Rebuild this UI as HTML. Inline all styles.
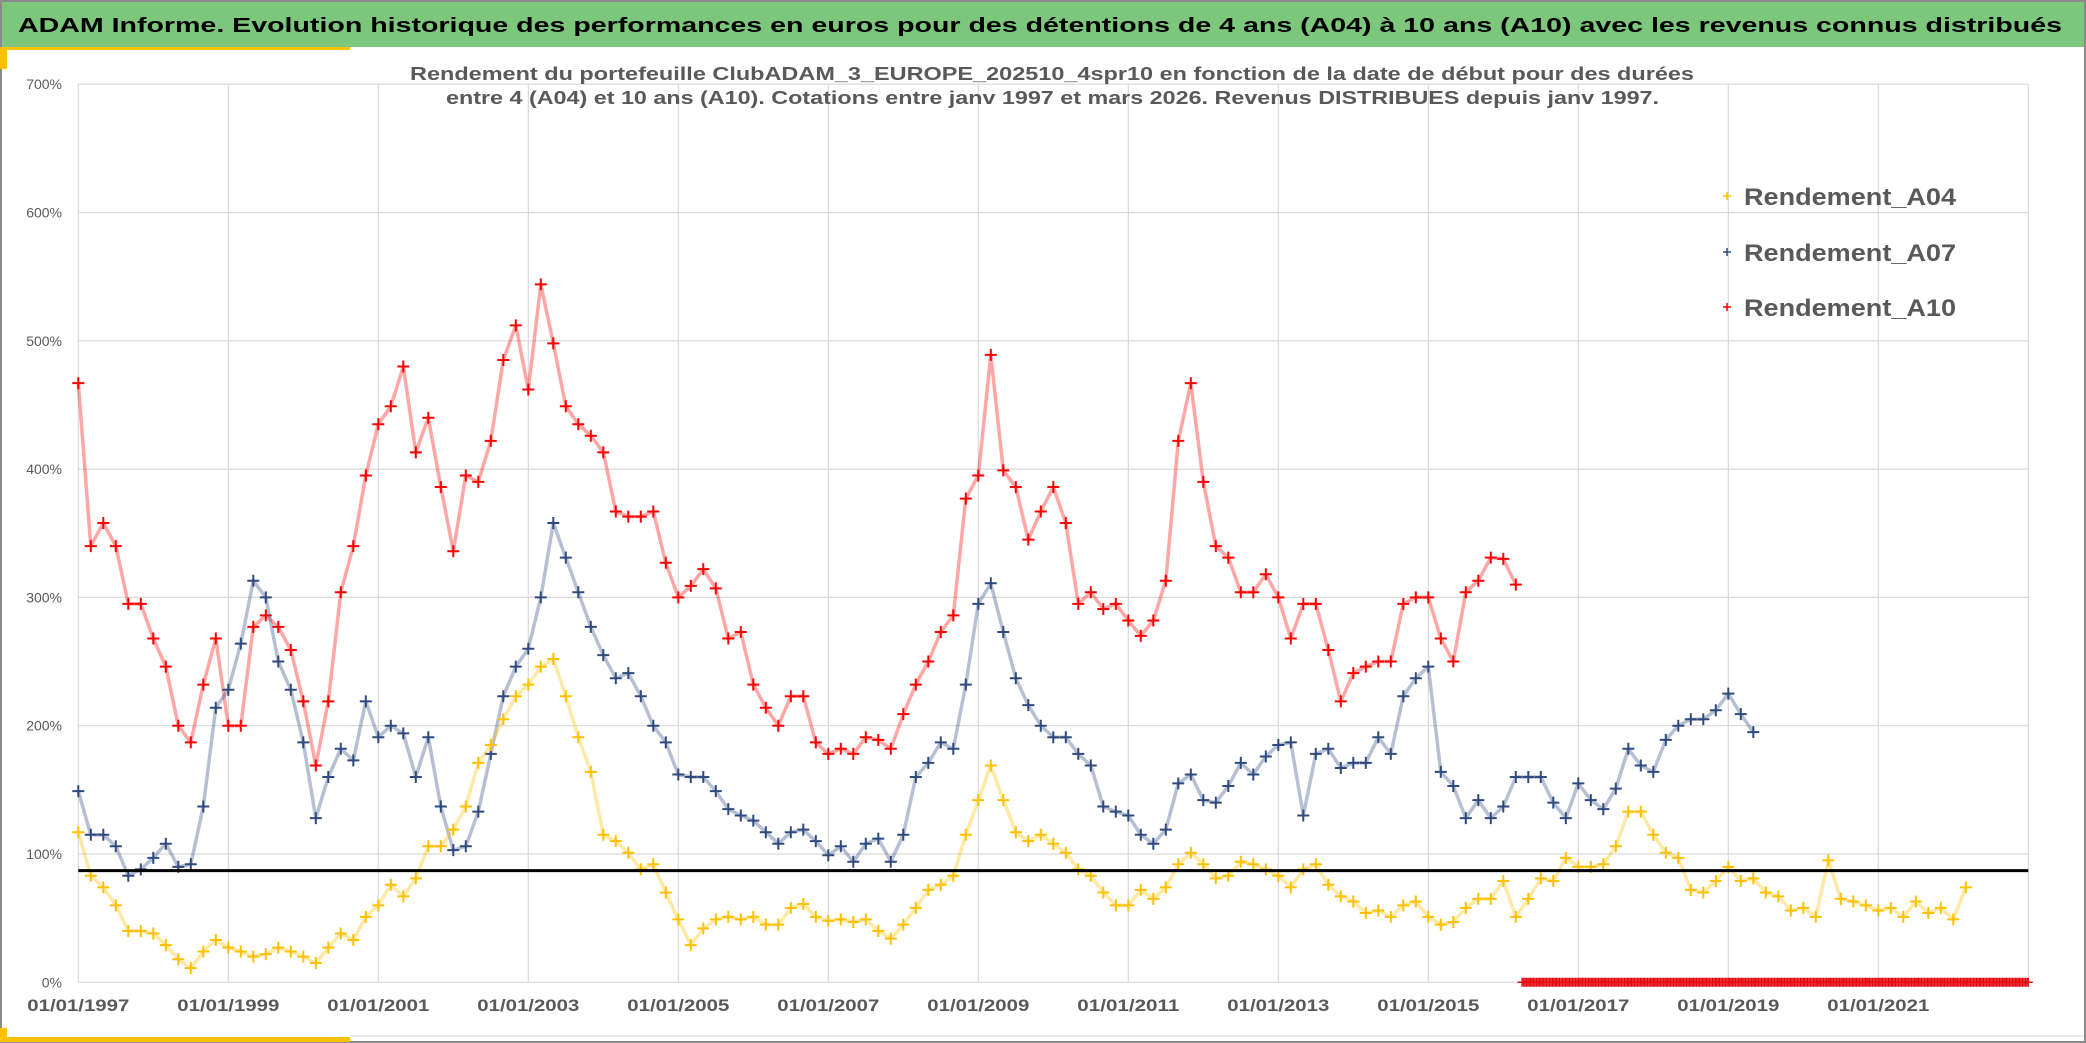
<!DOCTYPE html>
<html><head><meta charset="utf-8">
<style>
html,body{margin:0;padding:0;background:#fff;}
svg{display:block;font-family:"Liberation Sans",sans-serif;}
</style></head>
<body>
<svg id="chart" width="2086" height="1043" viewBox="0 0 2086 1043" xmlns="http://www.w3.org/2000/svg">
  <rect x="0" y="0" width="2086" height="1043" fill="#fff"/>
  <rect x="0" y="0" width="2086" height="47" fill="#7CC77C"/>
  <rect x="1" y="1" width="2084" height="1041" fill="none" stroke="#8a8a8a" stroke-width="2"/>
  <rect x="0" y="47" width="350" height="3" fill="#FFC000"/>
  <rect x="0" y="47" width="7" height="22" fill="#FFC000"/>
  <rect x="0" y="1037" width="350" height="5" fill="#FFC000"/>
  <rect x="0" y="1028" width="7" height="14" fill="#FFC000"/>
  <line x1="350" y1="1036" x2="2084" y2="1036" stroke="#d9d9d9" stroke-width="1"/>
  <text x="18" y="32" font-size="20" font-weight="bold" fill="#000" textLength="2044" lengthAdjust="spacingAndGlyphs">ADAM Informe. Evolution historique des performances en euros pour des détentions de 4 ans (A04) à 10 ans (A10) avec les revenus connus distribués</text>
  <g id="grid"></g>
  <g id="axes"></g>
  <text x="410" y="80" font-size="18" font-weight="bold" fill="#595959" textLength="1284" lengthAdjust="spacingAndGlyphs">Rendement du portefeuille ClubADAM_3_EUROPE_202510_4spr10  en fonction de la date de début pour des durées</text>
  <text x="446" y="104" font-size="18" font-weight="bold" fill="#595959" textLength="1213" lengthAdjust="spacingAndGlyphs">entre 4 (A04) et 10 ans (A10). Cotations entre janv 1997 et mars 2026. Revenus DISTRIBUES depuis janv 1997.</text>
  <g id="series"></g>
  <g id="legend"></g>
</svg>
<script>
// ---- data ----
const yTicks = [0,100,200,300,400,500,600,700];
const xTickYears = [1997,1999,2001,2003,2005,2007,2009,2011,2013,2015,2017,2019,2021];
const xGridYears = [1997,1999,2001,2003,2005,2007,2009,2011,2013,2015,2017,2019,2021,2023];
const seriesStart = 1997;
const seriesStep = 1/6;
const a04 = [117,83,74,60,40,40,38,29,18,11,24,33,27,24,20,22,27,24,20,15,27,38,33,51,60,76,67,81,106,106,119,137,171,185,205,223,232,246,252,223,191,164,
115,110,101,88,92,70,49,29,42,49,51,49,51,45,45,58,61,51,48,49,47,49,40,34,45,58,72,76,83,115,142,169,142,117,110,115,108,101,88,83,70,60,
60,72,65,74,92,101,92,81,83,94,92,88,83,74,88,92,76,67,63,54,56,51,60,63,51,45,47,58,65,65,79,51,65,81,79,97,90,
90,92,106,133,133,115,101,97,72,70,79,90,79,81,70,67,56,58,51,95,65,63,60,56,58,51,63,54,58,49,74];
const a07 = [149,115,115,106,83,88,97,108,90,92,137,214,228,264,313,300,250,228,187,128,160,182,173,219,191,200,194,160,191,137,103,106,133,178,223,246,260,300,358,331,304,277,
255,237,241,223,200,187,162,160,160,149,135,130,126,117,108,117,119,110,99,106,94,108,112,94,115,160,171,187,182,232,295,311,273,237,216,200,191,191,178,169,137,133,
130,115,108,119,155,162,142,140,153,171,162,176,185,187,130,178,182,167,171,171,191,178,223,237,246,164,153,128,142,128,137,160,160,160,140,128,155,
142,135,151,182,169,164,189,200,205,205,212,225,209,195];
const a10 = [467,340,358,340,295,295,268,246,200,187,232,268,200,200,277,286,277,259,219,169,219,304,340,395,435,449,480,413,440,386,336,395,390,422,485,512,462,544,498,449,435,426,
413,367,363,363,367,327,300,309,322,307,268,273,232,214,200,223,223,187,178,182,178,191,189,182,209,232,250,273,286,377,395,489,399,386,345,367,386,358,295,304,291,295,
282,270,282,313,422,467,390,340,331,304,304,318,300,268,295,295,259,219,241,246,250,250,295,300,300,268,250,304,313,331,330,310];
const a10ZeroStart = 2016.25;
const a10ZeroEnd = 2023.0;
const a10ZeroValue = 0;
const seriesNames = ["Rendement_A04","Rendement_A07","Rendement_A10"];
const refLevel = 87;

// ---- scales ----
const X0 = 78.3, PXYEAR = 75, Y0 = 982.3, PXPCT = 1.283;
function xs(yr){ return X0 + (yr - 1997) * PXYEAR; }
function ys(v){ return Y0 - v * PXPCT; }
const NS = "http://www.w3.org/2000/svg";
function mk(tag, attrs, parent){ const e = document.createElementNS(NS, tag); for (const k in attrs) e.setAttribute(k, attrs[k]); parent.appendChild(e); return e; }

const grid = document.getElementById('grid');
const axes = document.getElementById('axes');
const xL = xs(1997), xR = xs(2023);
yTicks.forEach(v => {
  const l = mk('line', {x1:xL, x2:xR, y1:ys(v), y2:ys(v), stroke:'#d9d9d9', 'stroke-width':1.2}, grid);
  
  
  const t = mk('text', {x:62, y:ys(v)+5, 'text-anchor':'end', 'font-size':14, fill:'#595959'}, axes);
  t.textContent = v + '%';
  
  
});
xGridYears.forEach(yr => {
  const l = mk('line', {x1:xs(yr), x2:xs(yr), y1:ys(700), y2:ys(0), stroke:'#d9d9d9', 'stroke-width':1.2}, grid);
  
  
});
xTickYears.forEach(yr => {
  const t = mk('text', {x:xs(yr)-51, y:1011, 'font-size':17, 'font-weight':'bold', fill:'#595959', textLength:102, lengthAdjust:'spacingAndGlyphs'}, axes);
  t.textContent = '01/01/' + yr;
  
  
});

const series = document.getElementById('series');
function cross(g, x, y, s, color, sw){
  return mk('path', {d:`M${x-s},${y}h${2*s}M${x},${y-s}v${2*s}`, stroke:color, 'stroke-width':sw, fill:'none'}, g);
}
function drawSeries(vals, color, name){
  const g = mk('g', {}, series);
  
  
  const pts = vals.map((v, i) => xs(seriesStart + i * seriesStep).toFixed(1) + ',' + ys(v).toFixed(1)).join(' ');
  const band = mk('polyline', {points:pts, fill:'none', stroke:color, 'stroke-width':3.5, 'stroke-opacity':0.35, 'stroke-linejoin':'round'}, g);
  
  
  vals.forEach((v, i) => {
    const p = cross(g, xs(seriesStart + i * seriesStep), ys(v), 6, color, 2);
    
    
  });
}
drawSeries(a10, '#FF0000', 'series-a10');
drawSeries(a07, '#2F4A7E', 'series-a07');
drawSeries(a04, '#FFC000', 'series-a04');

// A10 zero-valued tail
const tail = mk('g', {}, series);


for (let yr = a10ZeroStart; yr <= a10ZeroEnd; yr += 1/52) {
  const p = cross(tail, xs(yr), ys(a10ZeroValue), 4.5, '#E8000A', 1.3);
  
  
}

const ref = mk('line', {x1:xL, x2:xR, y1:ys(refLevel), y2:ys(refLevel), stroke:'#000', 'stroke-width':3}, series);



const legend = document.getElementById('legend');
const lColors = ['#FFC000','#2F4A7E','#FF0000'];
const lY = [196, 252, 307];
seriesNames.forEach((n, i) => {
  const m = cross(legend, 1727, lY[i], 4, lColors[i], 1.5);
  
  
  const t = mk('text', {x:1744, y:lY[i]+9, 'font-size':24, 'font-weight':'bold', fill:'#595959', textLength:212, lengthAdjust:'spacingAndGlyphs'}, legend);
  t.textContent = n;
  
  
});
</script>
</body></html>
